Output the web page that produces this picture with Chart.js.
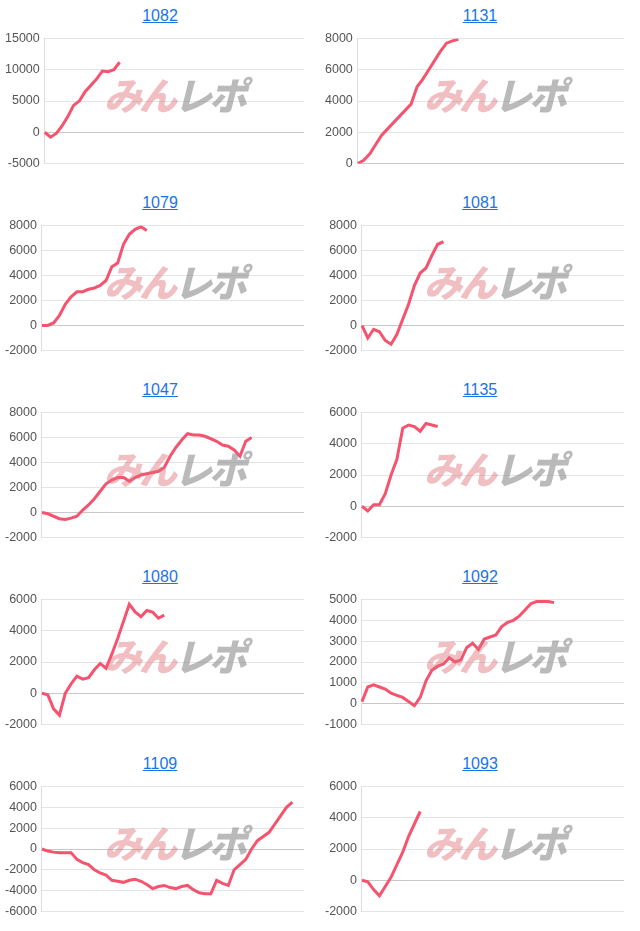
<!DOCTYPE html>
<html><head><meta charset="utf-8">
<script src="https://cdn.jsdelivr.net/npm/chart.js@4"></script>
<style>
body{margin:0;background:#fff;font-family:"Liberation Sans",Arial,sans-serif}
#grid{display:grid;grid-template-columns:320px 320px;grid-auto-rows:187px}
.panel{position:relative}
.panel a{position:absolute;top:7px;left:0;width:100%;text-align:center;color:#1a73e8;font-size:16px;text-decoration:underline}
.panel .cv{position:absolute;top:26px;left:0;width:318px;height:150px}
.wm{position:absolute;top:66px;left:104px;font:italic 900 38px "Noto Sans CJK JP",sans-serif;letter-spacing:-3px;pointer-events:none}
.wm .a{color:rgba(225,110,120,0.45)}.wm .b{color:rgba(140,140,140,0.6)}
</style></head><body>
<div id="grid"></div>
<script>
const titles = ['1082','1131','1079','1081','1047','1135','1080','1092','1109','1093'];
const s1082 = [0,-800,-200,1000,2500,4300,5000,6500,7500,8500,9800,9700,10000,11200];
const s1131 = [0,200,600,1200,1800,2200,2600,3000,3400,3800,4900,5400,6000,6600,7200,7700,7850,7950];
const s1079 = [0,0,200,800,1700,2300,2700,2700,2900,3000,3200,3600,4700,5000,6500,7300,7700,7900,7600];
const s1081 = [0,-1000,-300,-500,-1200,-1500,-700,500,1700,3200,4200,4600,5600,6500,6700];
const s1047 = [0,-100,-300,-500,-550,-450,-300,200,600,1100,1700,2300,2600,2800,2800,2500,2800,3000,3100,3200,3300,3600,4500,5200,5800,6300,6200,6200,6100,5900,5700,5400,5300,5000,4500,5700,6000];
const s1135 = [0,-300,100,100,800,2000,3000,5000,5200,5100,4800,5300,5200,5100];
const s1080 = [0,-100,-1000,-1400,0,600,1100,900,1000,1500,1900,1600,2500,3500,4600,5700,5200,4900,5300,5200,4800,5000];
const s1092 = [100,800,900,800,700,500,400,300,100,-100,300,1100,1600,1800,1900,2200,2000,2100,2700,2900,2600,3100,3200,3300,3700,3900,4000,4200,4500,4800,4900,4900,4900,4850];
const s1109 = [0,-200,-300,-350,-350,-350,-1000,-1300,-1500,-2000,-2300,-2500,-3000,-3100,-3200,-3000,-2900,-3100,-3400,-3800,-3600,-3500,-3700,-3800,-3600,-3500,-3900,-4200,-4300,-4300,-3000,-3300,-3500,-2000,-1500,-1000,0,800,1200,1600,2400,3200,4000,4500];
const s1093 = [0,-100,-600,-1000,-400,200,1000,1800,2800,3600,4400];
const series = [s1082,s1131,s1079,s1081,s1047,s1135,s1080,s1092,s1109,s1093];
const yMin = [-5000,0,-2000,-2000,-2000,-2000,-2000,-1000,-6000,-2000];
const yMax = [15000,8000,8000,8000,8000,6000,6000,5000,6000,6000];
const yStep = [5000,2000,2000,2000,2000,2000,2000,1000,2000,2000];
const nSlots = 46;
const labels = Array.from({length:nSlots},()=> '');

const grid = document.getElementById('grid');
titles.forEach((t,i)=>{
  const p = document.createElement('div'); p.className='panel';
  p.innerHTML = `<a>${t}</a><div class="cv"><canvas></canvas></div><div class="wm"><span class="a">みん</span><span class="b">レポ</span></div>`;
  grid.appendChild(p);
  new Chart(p.querySelector('canvas'), {
    type:'line',
    data:{labels, datasets:[{data:series[i], borderColor:'#f5536e', borderWidth:3, pointRadius:0, tension:0, fill:false}]},
    options:{
      responsive:true, maintainAspectRatio:false, animation:false,
      layout:{padding:{right:14}},
      plugins:{legend:{display:false}, tooltip:{enabled:false}},
      scales:{
        x:{ticks:{display:false}, grid:{display:false, drawTicks:false}, border:{display:false}},
        y:{min:yMin[i], max:yMax[i],
           ticks:{stepSize:yStep[i], color:'#555', font:{size:12.5, family:'Liberation Sans'}, padding:5, callback:v=>String(v)},
           grid:{color:c=>c.tick.value===0?'#c8c8c8':'#e4e4e4', drawTicks:false},
           border:{color:'#ddd'}}
      }
    }
  });
});
</script>
</body></html>
